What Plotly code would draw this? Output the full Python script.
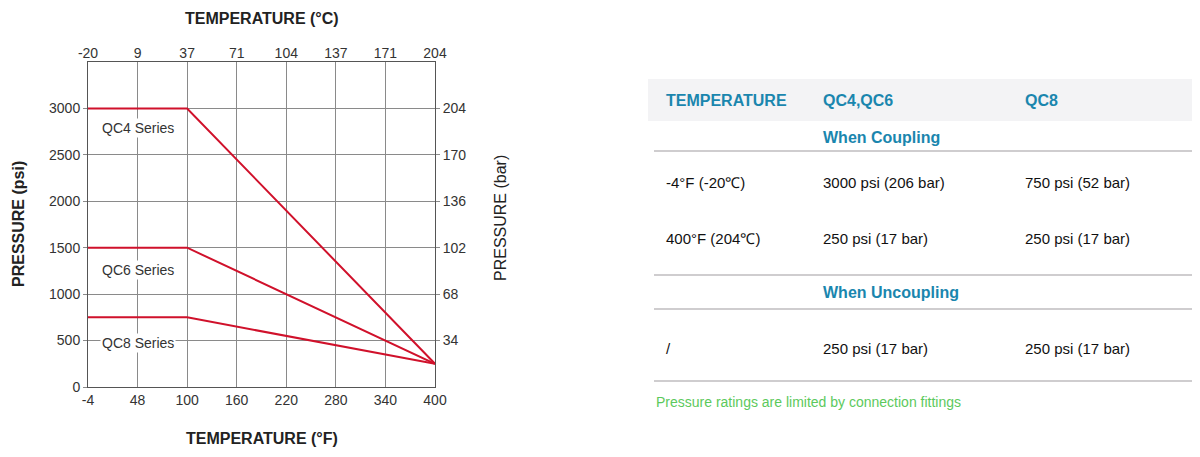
import plotly.graph_objects as go

# the page body adds an 8px margin, so the figure is drawn 8px smaller
# and every pixel position below is shifted by that offset
OFF = 8
W, H = 1200 - OFF, 457 - OFF

# chart data
temps_f = ["-4", "48", "100", "160", "220", "280", "340", "400"]
temps_c = ["-20", "9", "37", "71", "104", "137", "171", "204"]
psi_ticks = [0, 500, 1000, 1500, 2000, 2500, 3000]
bar_ticks = ["34", "68", "102", "136", "170", "204"]

series_names = ["QC4 Series", "QC6 Series", "QC8 Series"]
series_x = ["-4", "100", "400"]
qc4_psi = [3000, 3000, 250]
qc6_psi = [1500, 1500, 250]
qc8_psi = [750, 750, 250]

# table data
table_header = ["TEMPERATURE", "QC4,QC6", "QC8"]
coupling_rows = [
    ["-4°F (-20℃)", "3000 psi (206 bar)", "750 psi (52 bar)"],
    ["400°F (204℃)", "250 psi (17 bar)", "250 psi (17 bar)"],
]
uncoupling_rows = [["/", "250 psi (17 bar)", "250 psi (17 bar)"]]
note = "Pressure ratings are limited by connection fittings"


def px(x):
    return (x - OFF) / W


def py(y):
    return 1 - (y - OFF) / H


RED = "#d0112b"
GRID = "#8a8a8a"
FRAME = "#555555"
TEAL = "#1a86ae"
TICKFONT = dict(family="Arial", size=14, color="#333333")
TITLEFONT = dict(family="Arial", size=16, color="#222222", weight="bold")

fig = go.Figure()

for name, ys in zip(series_names, [qc4_psi, qc6_psi, qc8_psi]):
    fig.add_trace(go.Scatter(
        x=series_x, y=ys, mode="lines", name=name,
        line=dict(color=RED, width=2), showlegend=False,
    ))

# invisible trace so the secondary axes render
fig.add_trace(go.Scatter(x=[0], y=[0], xaxis="x2", yaxis="y2",
                         mode="markers", marker=dict(opacity=0),
                         showlegend=False, hoverinfo="skip"))

label_y = [2784, 1263, 475]
for name, yv in zip(series_names, label_y):
    fig.add_annotation(
        x=1, y=yv, xref="x", yref="y", text=name, showarrow=False,
        xanchor="center", yanchor="middle",
        font=dict(family="Arial", size=14, color="#333333"),
        bgcolor="white", borderpad=1,
    )

x_dom = [px(88), px(435)]
y_dom = [py(387), py(62)]

fig.update_layout(
    width=W, height=H,
    margin=dict(l=0, r=0, t=0, b=0),
    plot_bgcolor="white", paper_bgcolor="white",
    showlegend=False,
    xaxis=dict(
        type="category", categoryorder="array", categoryarray=temps_f,
        range=[0, 7], domain=x_dom, anchor="y", automargin=False,
        showgrid=True, gridcolor=GRID, gridwidth=1,
        showline=True, linecolor=FRAME, linewidth=1, mirror=True,
        tickfont=TICKFONT, ticks="", fixedrange=True,
    ),
    xaxis2=dict(
        range=[0, 7], domain=x_dom, overlaying="x", side="top", anchor="y",
        automargin=False,
        tickmode="array", tickvals=list(range(len(temps_c))), ticktext=temps_c,
        showgrid=False, zeroline=False, tickfont=TICKFONT, ticks="",
    ),
    yaxis=dict(
        range=[0, 3500], domain=y_dom, anchor="x", automargin=False,
        tickmode="array", tickvals=psi_ticks,
        showgrid=True, gridcolor=GRID, gridwidth=1, zeroline=False,
        showline=True, linecolor=FRAME, linewidth=1, mirror=True,
        ticks="outside", ticklen=4, tickcolor=GRID,
        tickfont=TICKFONT,
    ),
    yaxis2=dict(
        range=[0, 3500], domain=y_dom, overlaying="y", side="right", anchor="x",
        automargin=False,
        tickmode="array", tickvals=psi_ticks[1:], ticktext=bar_ticks,
        showgrid=False, zeroline=False,
        ticks="outside", ticklen=4, tickcolor=GRID,
        tickfont=TICKFONT,
    ),
)


def note_at(x, y, text, font, xanchor="left", angle=0):
    fig.add_annotation(x=px(x), y=py(y), xref="paper", yref="paper",
                       text=text, showarrow=False, xanchor=xanchor,
                       yanchor="middle", textangle=angle, font=font)


# axis titles
note_at(262, 18, "TEMPERATURE (°C)", TITLEFONT, "center")
note_at(262, 438, "TEMPERATURE (°F)", TITLEFONT, "center")
note_at(18, 224, "PRESSURE (psi)", TITLEFONT, "center", -90)
note_at(500, 218, "PRESSURE (bar)",
        dict(family="Arial", size=16, color="#222222"), "center", -90)

# table on the right
col_x = [664, 821, 1023]
fig.add_shape(type="rect", xref="paper", yref="paper",
              x0=px(648), x1=1, y0=py(121), y1=py(79),
              fillcolor="#f3f3f5", line_width=0, layer="below")
head_font = dict(family="Arial", size=16, color=TEAL, weight="bold")
for txt, cx in zip(table_header, col_x):
    note_at(cx, 100, txt, head_font)

for yl in [151, 275, 309, 381]:
    fig.add_shape(type="line", xref="paper", yref="paper",
                  x0=px(654), x1=px(1197), y0=py(yl), y1=py(yl),
                  line=dict(color="#cfcdcf", width=2))

note_at(col_x[1], 138, "When Coupling", head_font)
note_at(col_x[1], 292, "When Uncoupling", head_font)

body_font = dict(family="Arial", size=15, color="#111111")
for row, ry in zip(coupling_rows + uncoupling_rows, [183, 239, 348]):
    for txt, cx in zip(row, col_x):
        note_at(cx, ry, txt, body_font)

note_at(654, 402, note, dict(family="Arial", size=14, color="#5cc95c"))

fig.write_html("out.html")
